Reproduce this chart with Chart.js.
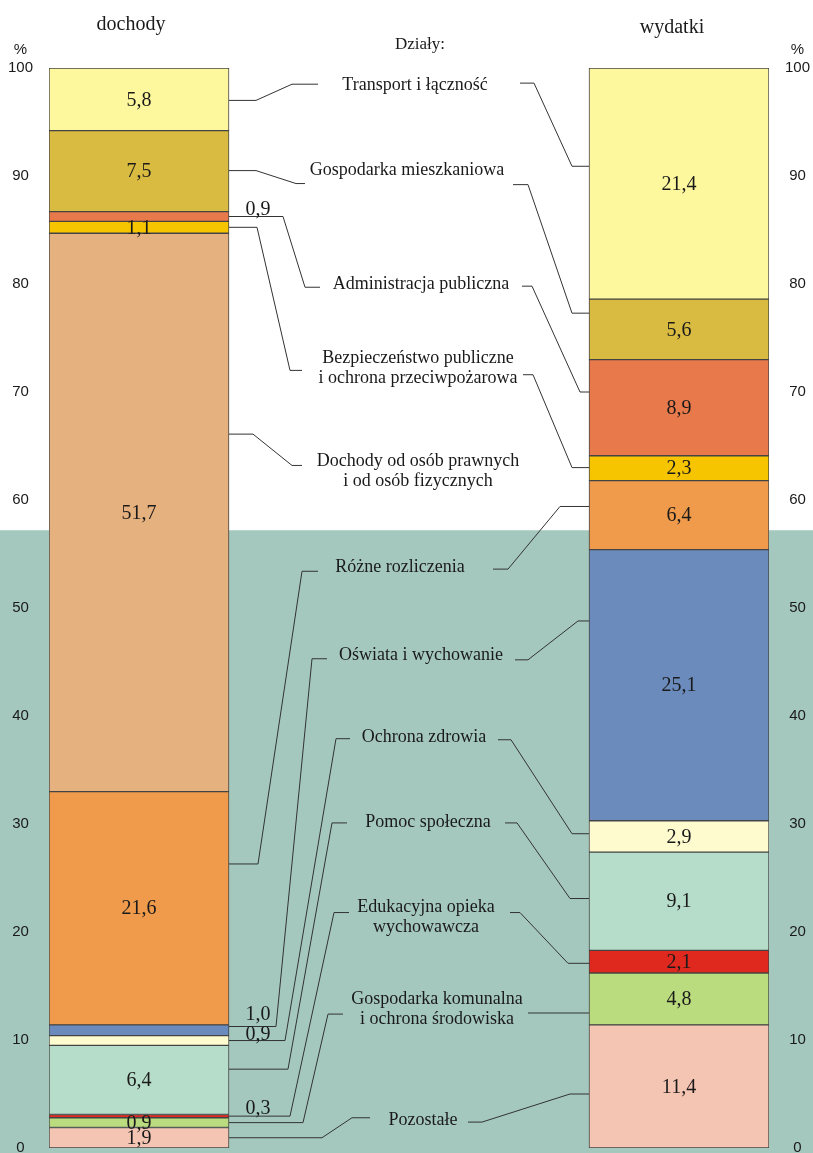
<!DOCTYPE html>
<html>
<head>
<meta charset="utf-8">
<script src="https://cdn.jsdelivr.net/npm/chart.js@4/dist/chart.umd.min.js"></script>
<style>
  html, body { margin: 0; padding: 0; background: #fff; }
</style>
</head>
<body>
<canvas id="budgetChart" width="813" height="1153"></canvas>
<script>
// Działy, listed top to bottom as in the bars
const sections = [
    ['Transport i łączność'],
    ['Gospodarka mieszkaniowa'],
    ['Administracja publiczna'],
    ['Bezpieczeństwo publiczne', 'i ochrona przeciwpożarowa'],
    ['Dochody od osób prawnych', 'i od osób fizycznych'],
    ['Różne rozliczenia'],
    ['Oświata i wychowanie'],
    ['Ochrona zdrowia'],
    ['Pomoc społeczna'],
    ['Edukacyjna opieka', 'wychowawcza'],
    ['Gospodarka komunalna', 'i ochrona środowiska'],
    ['Pozostałe']
];
const incomeShares   = [5.8, 7.5, 0.9, 1.1, 51.7, 21.6, 1.0, 0.9, 6.4, 0.3, 0.9, 1.9];
const spendingShares = [21.4, 5.6, 8.9, 2.3, null, 6.4, 25.1, 2.9, 9.1, 2.1, 4.8, 11.4];
const columns = ['dochody', '', '', 'wydatki'];
const yTicks = [0, 10, 20, 30, 40, 50, 60, 70, 80, 90, 100];

const colors = ['#fdf79d', '#d8bb40', '#e8794a', '#f7c400', '#e5b17e', '#f09b4b',
                '#6c8bbd', '#fefbcf', '#b6ddc9', '#e0291e', '#badb7e', '#f5c5b4'];

// income values written beside the bar instead of inside (with lift above the line, px)
const outsideIncome = [false, false, true, false, false, false, true, true, false, true, false, false];
const outsideLift   = [0, 0, 2, 0, 0, 0, 7, 1, 0, 2, 0, 0];

// connector geometry: y in % of the axis, x in pixels
const leftStart  = [97.0, 90.5, 86.25, 85.25, 66.1, 26.3, 11.25, 9.95, 7.3, 2.95, 2.35, 0.95];
const leftKnee   = [256, 256, 283, 257, 253, 258, 276, 285, 288, 290, 303, 322];
const leftElbowX = [292, 296, 305, 290, 292, 302, 312, 336, 332, 334, 328, 352];
const leftElbowY = [98.5, 89.3, 79.7, 72.0, 63.2, 53.4, 45.3, 37.9, 30.1, 21.8, 12.4, 2.8];
const leftEnd    = [318, 305, 320, 302, 302, 318, 327, 350, 347, 349, 343, 370];

const rightStartX = [520, 513, 522, 523, null, 493, 515, 498, 505, 510, 528, 468];
const rightKnee   = [534, 528, 532, 533, null, 508, 528, 511, 517, 520, 528, 482];
const rightElbowX = [572, 572, 580, 572, null, 560, 578, 572, 570, 568, 528, 570];
const rightLabelY = [98.6, 89.2, 79.8, 71.6, null, 53.6, 45.2, 37.8, 30.1, 21.8, 12.5, 2.4];
const rightBarY   = [90.9, 77.3, 70.0, 63.0, null, 59.4, 48.8, 29.1, 23.1, 17.1, 12.5, 5.0];

const labelX = [415, 407, 421, 418, 418, 400, 421, 424, 428, 426, 437, 423];
const labelY = [98.4, 90.5, 80.0, 72.2, 62.7, 53.8, 45.6, 38.0, 30.2, 21.4, 12.8, 2.6];

const bgSplit = 57.2;  // teal band below this level

const serif = '"Liberation Serif", "Times New Roman", serif';
const sans = '"Liberation Sans", Arial, sans-serif';

function fmt(v) {
    return v.toFixed(1).replace('.', ',');
}

// build datasets bottom-up so stacking order matches the picture
const datasets = [];
for (let i = sections.length - 1; i >= 0; i--) {
    datasets.push({
        label: sections[i].join(' '),
        data: [incomeShares[i], null, null, spendingShares[i]],
        backgroundColor: colors[i],
        borderColor: '#444',
        borderWidth: 1,
        borderSkipped: false,
        barPercentage: 1,
        categoryPercentage: 1,
        secIndex: i
    });
}

const decorPlugin = {
    id: 'decor',
    beforeDraw(chart) {
        const ctx = chart.ctx;
        const y = chart.scales.y;
        const top = y.getPixelForValue(bgSplit);
        ctx.save();
        ctx.fillStyle = '#ffffff';
        ctx.fillRect(0, 0, chart.width, chart.height);
        ctx.fillStyle = '#a4c8bd';
        ctx.fillRect(0, top, chart.width, chart.height - top);
        ctx.restore();
    },
    afterDatasetsDraw(chart) {
        const ctx = chart.ctx;
        const y = chart.scales.y;
        const incomeBar = chart.getDatasetMeta(0).data[0];
        const spendBar = chart.getDatasetMeta(0).data[3];
        const leftEdge = incomeBar.x + incomeBar.width / 2;
        const rightEdge = spendBar.x - spendBar.width / 2;

        ctx.save();
        // connector lines
        ctx.strokeStyle = '#333';
        ctx.lineWidth = 1;
        sections.forEach((s, i) => {
            ctx.beginPath();
            ctx.moveTo(leftEdge, y.getPixelForValue(leftStart[i]));
            ctx.lineTo(leftKnee[i], y.getPixelForValue(leftStart[i]));
            ctx.lineTo(leftElbowX[i], y.getPixelForValue(leftElbowY[i]));
            ctx.lineTo(leftEnd[i], y.getPixelForValue(leftElbowY[i]));
            ctx.stroke();
            if (rightStartX[i] !== null) {
                ctx.beginPath();
                ctx.moveTo(rightStartX[i], y.getPixelForValue(rightLabelY[i]));
                ctx.lineTo(rightKnee[i], y.getPixelForValue(rightLabelY[i]));
                ctx.lineTo(rightElbowX[i], y.getPixelForValue(rightBarY[i]));
                ctx.lineTo(rightEdge, y.getPixelForValue(rightBarY[i]));
                ctx.stroke();
            }
        });

        // section names in the middle
        ctx.fillStyle = '#1a1a1a';
        ctx.textAlign = 'center';
        ctx.textBaseline = 'middle';
        ctx.font = '18px ' + serif;
        sections.forEach((lines, i) => {
            const cy = y.getPixelForValue(labelY[i]);
            lines.forEach((t, k) => {
                ctx.fillText(t, labelX[i], cy + (k - (lines.length - 1) / 2) * 20);
            });
        });

        // values on the bars
        ctx.font = '20px ' + serif;
        chart.data.datasets.forEach((ds, d) => {
            const meta = chart.getDatasetMeta(d);
            const i = ds.secIndex;
            [0, 3].forEach(col => {
                const v = ds.data[col];
                if (v === null) return;
                const el = meta.data[col];
                if (col === 0 && outsideIncome[i]) {
                    ctx.textBaseline = 'alphabetic';
                    ctx.fillText(fmt(v), leftEdge + 29, y.getPixelForValue(leftStart[i]) - outsideLift[i]);
                } else {
                    ctx.textBaseline = 'middle';
                    ctx.fillText(fmt(v), el.x, el.y + el.height / 2 + 1);
                }
            });
        });

        // column titles and header
        ctx.textBaseline = 'middle';
        ctx.fillText(columns[0], incomeBar.x - 8, 25);
        ctx.fillText(columns[3], spendBar.x - 7, 28);
        ctx.font = '17px ' + serif;
        ctx.fillText('Działy:', 420, 45);

        // percent signs above the axes
        ctx.font = '15px ' + sans;
        const half = ctx.measureText('100').width / 2;
        ctx.fillText('%', chart.scales.y.right - 16 - half, 50);
        ctx.fillText('%', chart.scales.y2.left + 16 + half, 50);
        ctx.restore();
    }
};

const tickStyle = {
    stepSize: 10,
    padding: 16,
    crossAlign: 'center',
    color: '#1a1a1a',
    font: { family: sans, size: 15 },
    callback: v => yTicks.includes(v) ? String(v) : ''
};

new Chart(document.getElementById('budgetChart'), {
    type: 'bar',
    data: { labels: columns, datasets: datasets },
    options: {
        responsive: false,
        animation: false,
        layout: { padding: { top: 68, bottom: 5, left: 0, right: 0 } },
        plugins: { legend: { display: false }, tooltip: { enabled: false } },
        scales: {
            x: { stacked: true, display: false },
            y: {
                stacked: true, min: 0, max: 100, position: 'left',
                ticks: tickStyle,
                grid: { display: false, drawTicks: false },
                border: { display: false },
                afterFit(scale) { scale.width = 49; scale.paddingTop = 0; scale.paddingBottom = 0; }
            },
            y2: {
                min: 0, max: 100, position: 'right',
                ticks: tickStyle,
                grid: { display: false, drawTicks: false },
                border: { display: false },
                afterFit(scale) { scale.width = 44; scale.paddingTop = 0; scale.paddingBottom = 0; }
            }
        }
    },
    plugins: [decorPlugin]
});
</script>
</body>
</html>
